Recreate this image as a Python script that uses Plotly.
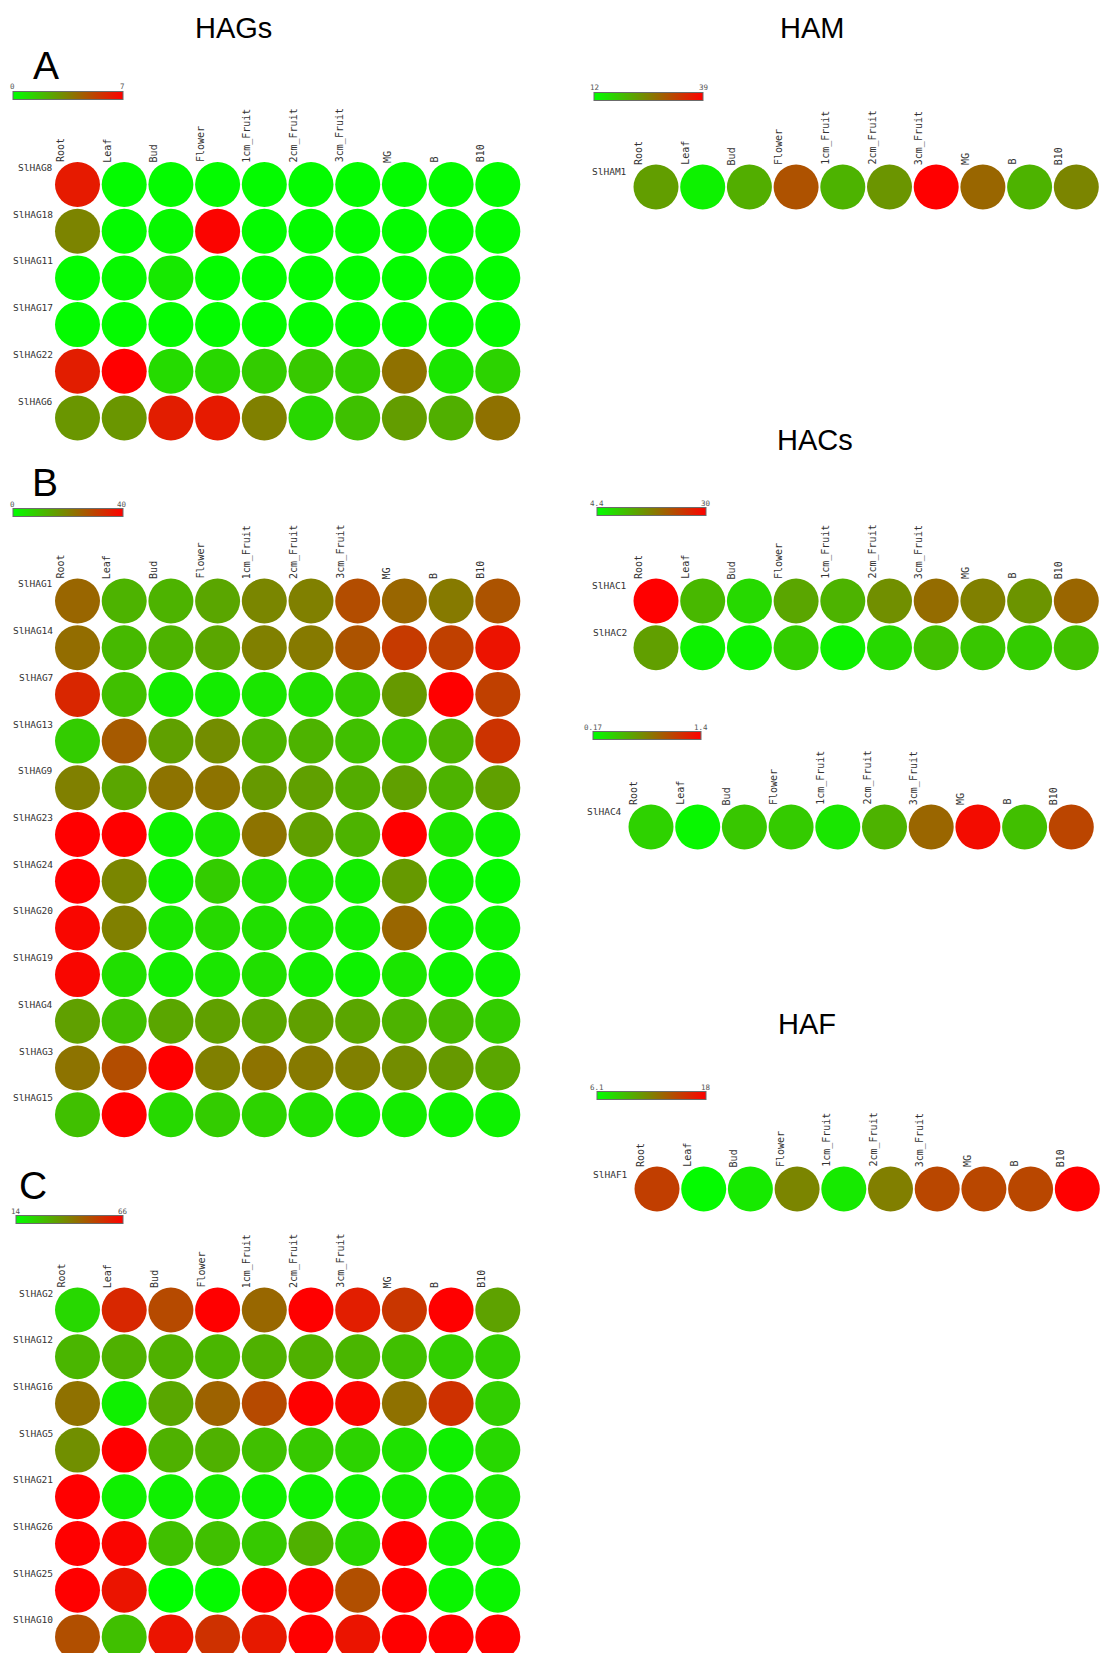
import plotly.graph_objects as go

# ---------------- data ----------------
tissues = ["Root", "Leaf", "Bud", "Flower", "1cm_Fruit", "2cm_Fruit", "3cm_Fruit", "MG", "B", "B10"]

genes_A = ["SlHAG8", "SlHAG18", "SlHAG11", "SlHAG17", "SlHAG22", "SlHAG6"]
values_A = [
    [6.3, 0.1, 0.1, 0.1, 0.1, 0.1, 0.1, 0.1, 0.1, 0.1],
    [3.4, 0.1, 0.2, 6.9, 0.1, 0.1, 0.1, 0.1, 0.1, 0.1],
    [0.1, 0.2, 0.6, 0.1, 0.1, 0.1, 0.1, 0.1, 0.2, 0.1],
    [0.1, 0.1, 0.1, 0.1, 0.1, 0.1, 0.1, 0.1, 0.1, 0.1],
    [6.2, 7.0, 1.0, 1.1, 1.4, 1.5, 1.4, 3.9, 0.7, 1.2],
    [2.9, 2.9, 6.2, 6.3, 3.5, 1.1, 1.7, 2.7, 2.2, 3.9],
]
range_A = [0, 7]

genes_B = ["SlHAG1", "SlHAG14", "SlHAG7", "SlHAG13", "SlHAG9", "SlHAG23",
           "SlHAG24", "SlHAG20", "SlHAG19", "SlHAG4", "SlHAG3", "SlHAG15"]
values_B = [
    [24, 12, 12, 14, 19, 20, 28, 24, 21, 27],
    [23, 11, 12, 14, 20, 21, 27, 31, 30, 37],
    [34, 10, 3, 3, 4, 5, 8, 16, 40, 30],
    [8, 26, 15, 18, 12, 12, 10, 9, 12, 32],
    [20, 14, 22, 22, 16, 15, 13, 15, 12, 15],
    [40, 40, 2, 4, 22, 15, 12, 40, 4, 2],
    [40, 19, 2, 8, 5, 4, 3, 16, 2, 1],
    [39, 20, 4, 6, 5, 4, 3, 24, 2, 2],
    [39, 5, 3, 4, 5, 3, 2, 4, 2, 2],
    [15, 10, 14, 15, 14, 15, 14, 12, 11, 8],
    [22, 28, 40, 20, 22, 21, 20, 18, 16, 14],
    [10, 40, 6, 8, 7, 5, 3, 3, 2, 2],
]
range_B = [0, 40]

genes_C = ["SlHAG2", "SlHAG12", "SlHAG16", "SlHAG5", "SlHAG21", "SlHAG26", "SlHAG25", "SlHAG10"]
values_C = [
    [22, 58, 51, 66, 45, 66, 60, 55, 66, 33],
    [29, 30, 30, 29, 30, 30, 29, 27, 24, 24],
    [43, 17, 32, 46, 51, 66, 65, 43, 56, 24],
    [37, 66, 30, 30, 27, 25, 23, 20, 17, 22],
    [66, 17, 17, 18, 17, 17, 17, 18, 17, 19],
    [66, 65, 27, 27, 25, 30, 22, 66, 17, 17],
    [66, 62, 14, 15, 66, 66, 50, 66, 16, 16],
    [50, 27, 62, 56, 61, 66, 62, 66, 66, 66],
]
range_C = [14, 66]

genes_HAM = ["SlHAM1"]
values_HAM = [[22.3, 13.4, 20.6, 30.4, 20.1, 23.3, 39, 28.2, 20.1, 25]]
range_HAM = [12, 39]

genes_HAC = ["SlHAC1", "SlHAC2"]
values_HAC = [
    [30, 11.6, 8.2, 13.4, 12.1, 15.7, 19.2, 17.2, 15.2, 19.8],
    [14.1, 5.7, 5.7, 9.5, 5.7, 8.2, 10.8, 10, 9.5, 10.8],
]
range_HAC = [4.4, 30]

genes_HAC4 = ["SlHAC4"]
values_HAC4 = [[0.39, 0.21, 0.44, 0.42, 0.29, 0.54, 0.91, 1.34, 0.48, 1.07]]
range_HAC4 = [0.17, 1.4]
range_HAC4_labels = ["0.17", "1.4"]

genes_HAF = ["SlHAF1"]
values_HAF = [[15.1, 6.3, 7.1, 11.8, 7.1, 12.1, 14.7, 14.7, 14.7, 18]]
range_HAF = [6.1, 18]

# ---------------- layout geometry (pixels) ----------------
W, H = 1100, 1653
CELL = 46.7
DOT = 45
MONO = "DejaVu Sans Mono"
SANS = "Liberation Sans"
SCALE = [[0, "rgb(0,255,0)"], [0.5, "rgb(128,128,0)"], [1, "rgb(255,0,0)"]]

panels = [
    dict(genes=genes_A, values=values_A, rng=range_A, labs=["0", "7"], x0=77.5, y0=184.5,
         bar=(12.5, 122, 96), side="L"),
    dict(genes=genes_B, values=values_B, rng=range_B, labs=["0", "40"], x0=77.5, y0=601,
         bar=(12.5, 122, 513), side="L"),
    dict(genes=genes_C, values=values_C, rng=range_C, labs=["14", "66"], x0=77.5, y0=1310,
         bar=(16, 123, 1220), side="L"),
    dict(genes=genes_HAM, values=values_HAM, rng=range_HAM, labs=["12", "39"], x0=656, y0=187,
         bar=(594, 703, 97), side="R"),
    dict(genes=genes_HAC, values=values_HAC, rng=range_HAC, labs=["4.4", "30"], x0=656, y0=601,
         bar=(597, 706, 512), side="R"),
    dict(genes=genes_HAC4, values=values_HAC4, rng=range_HAC4, labs=range_HAC4_labels, x0=651, y0=827,
         bar=(593, 701, 736), side="R"),
    dict(genes=genes_HAF, values=values_HAF, rng=range_HAF, labs=["6.1", "18"], x0=657, y0=1189,
         bar=(597, 706, 1096), side="R"),
]

fig = go.Figure()
annotations = []
layout = dict(width=W, height=H, margin=dict(l=0, r=0, t=0, b=0),
              paper_bgcolor="white", plot_bgcolor="white", showlegend=False)

for i, p in enumerate(panels, start=1):
    sfx = "" if i == 1 else str(i)
    xa, ya, ca = "x" + sfx, "y" + sfx, "coloraxis" + sfx
    genes, vals = p["genes"], p["values"]
    ncol, nrow = len(tissues), len(genes)

    left = p["x0"] - CELL / 2
    right = min(left + ncol * CELL, W)
    top = p["y0"] - CELL / 2
    bottom = min(top + nrow * CELL, H)

    layout["xaxis" + sfx] = dict(domain=[left / W, right / W], type="category",
                                 categoryorder="array", categoryarray=tissues,
                                 range=[-0.5, -0.5 + (right - left) / CELL],
                                 visible=False, anchor=ya, fixedrange=True)
    layout["yaxis" + sfx] = dict(domain=[1 - bottom / H, 1 - top / H], type="category",
                                 categoryorder="array", categoryarray=genes,
                                 range=[-0.5 + (bottom - top) / CELL, -0.5],
                                 visible=False, anchor=xa, fixedrange=True)

    bx0, bx1, byc = p["bar"]
    layout[ca] = dict(colorscale=SCALE, cmin=p["rng"][0], cmax=p["rng"][1],
                      colorbar=dict(orientation="h", x=bx0 / W, xanchor="left",
                                    y=1 - byc / H, yanchor="middle",
                                    len=bx1 - bx0, lenmode="pixels",
                                    thickness=8, thicknessmode="pixels",
                                    xpad=0, ypad=0, outlinewidth=1, outlinecolor="#6b6b6b",
                                    showticklabels=False, ticks=""))

    xs, ys, cs = [], [], []
    for g, row in zip(genes, vals):
        for t, v in zip(tissues, row):
            xs.append(t)
            ys.append(g)
            cs.append(v)
    fig.add_trace(go.Scatter(x=xs, y=ys, mode="markers", xaxis=xa, yaxis=ya,
                             marker=dict(size=DOT, color=cs, coloraxis=ca, line=dict(width=0)),
                             cliponaxis=False, hoverinfo="x+y+text", text=[str(c) for c in cs]))

    # column labels (rotated)
    for t in tissues:
        annotations.append(dict(x=t, y=genes[0], xref=xa, yref=ya, text=t, showarrow=False,
                                textangle=-90, xanchor="center", yanchor="bottom",
                                xshift=-17, yshift=21, borderpad=0,
                                font=dict(family=MONO, size=10, color="#333")))
    # row labels
    for g in genes:
        annotations.append(dict(x=tissues[0], y=g, xref=xa, yref=ya, text=g, showarrow=False,
                                xanchor="right", yanchor="middle",
                                xshift=-24 if p["side"] == "L" else -28,
                                yshift=17 if p["side"] == "L" else 15, borderpad=0,
                                font=dict(family=MONO, size=9.5, color="#333")))
    # colour bar end labels
    for lab, bx in zip(p["labs"], (bx0, bx1)):
        annotations.append(dict(x=bx / W, y=1 - (byc - 9) / H, xref="paper", yref="paper",
                                text=lab, showarrow=False, xanchor="center", yanchor="middle",
                                borderpad=0, font=dict(family=MONO, size=7.5, color="#555")))

# titles and panel letters
for txt, cx, cy, sz in [("HAGs", 233, 28, 29), ("HAM", 812, 28, 29), ("HACs", 815, 440, 29),
                        ("HAF", 807, 1024, 29), ("A", 46, 66, 39), ("B", 45, 482, 39),
                        ("C", 33, 1185, 39)]:
    annotations.append(dict(x=cx / W, y=1 - cy / H, xref="paper", yref="paper", text=txt,
                            showarrow=False, xanchor="center", yanchor="middle",
                            font=dict(family=SANS, size=sz, color="black")))

layout["annotations"] = annotations
fig.update_layout(**layout)
fig.write_html("out.html", config={"displayModeBar": False},
               post_script="document.body.style.margin='0';document.body.style.overflow='hidden';")
